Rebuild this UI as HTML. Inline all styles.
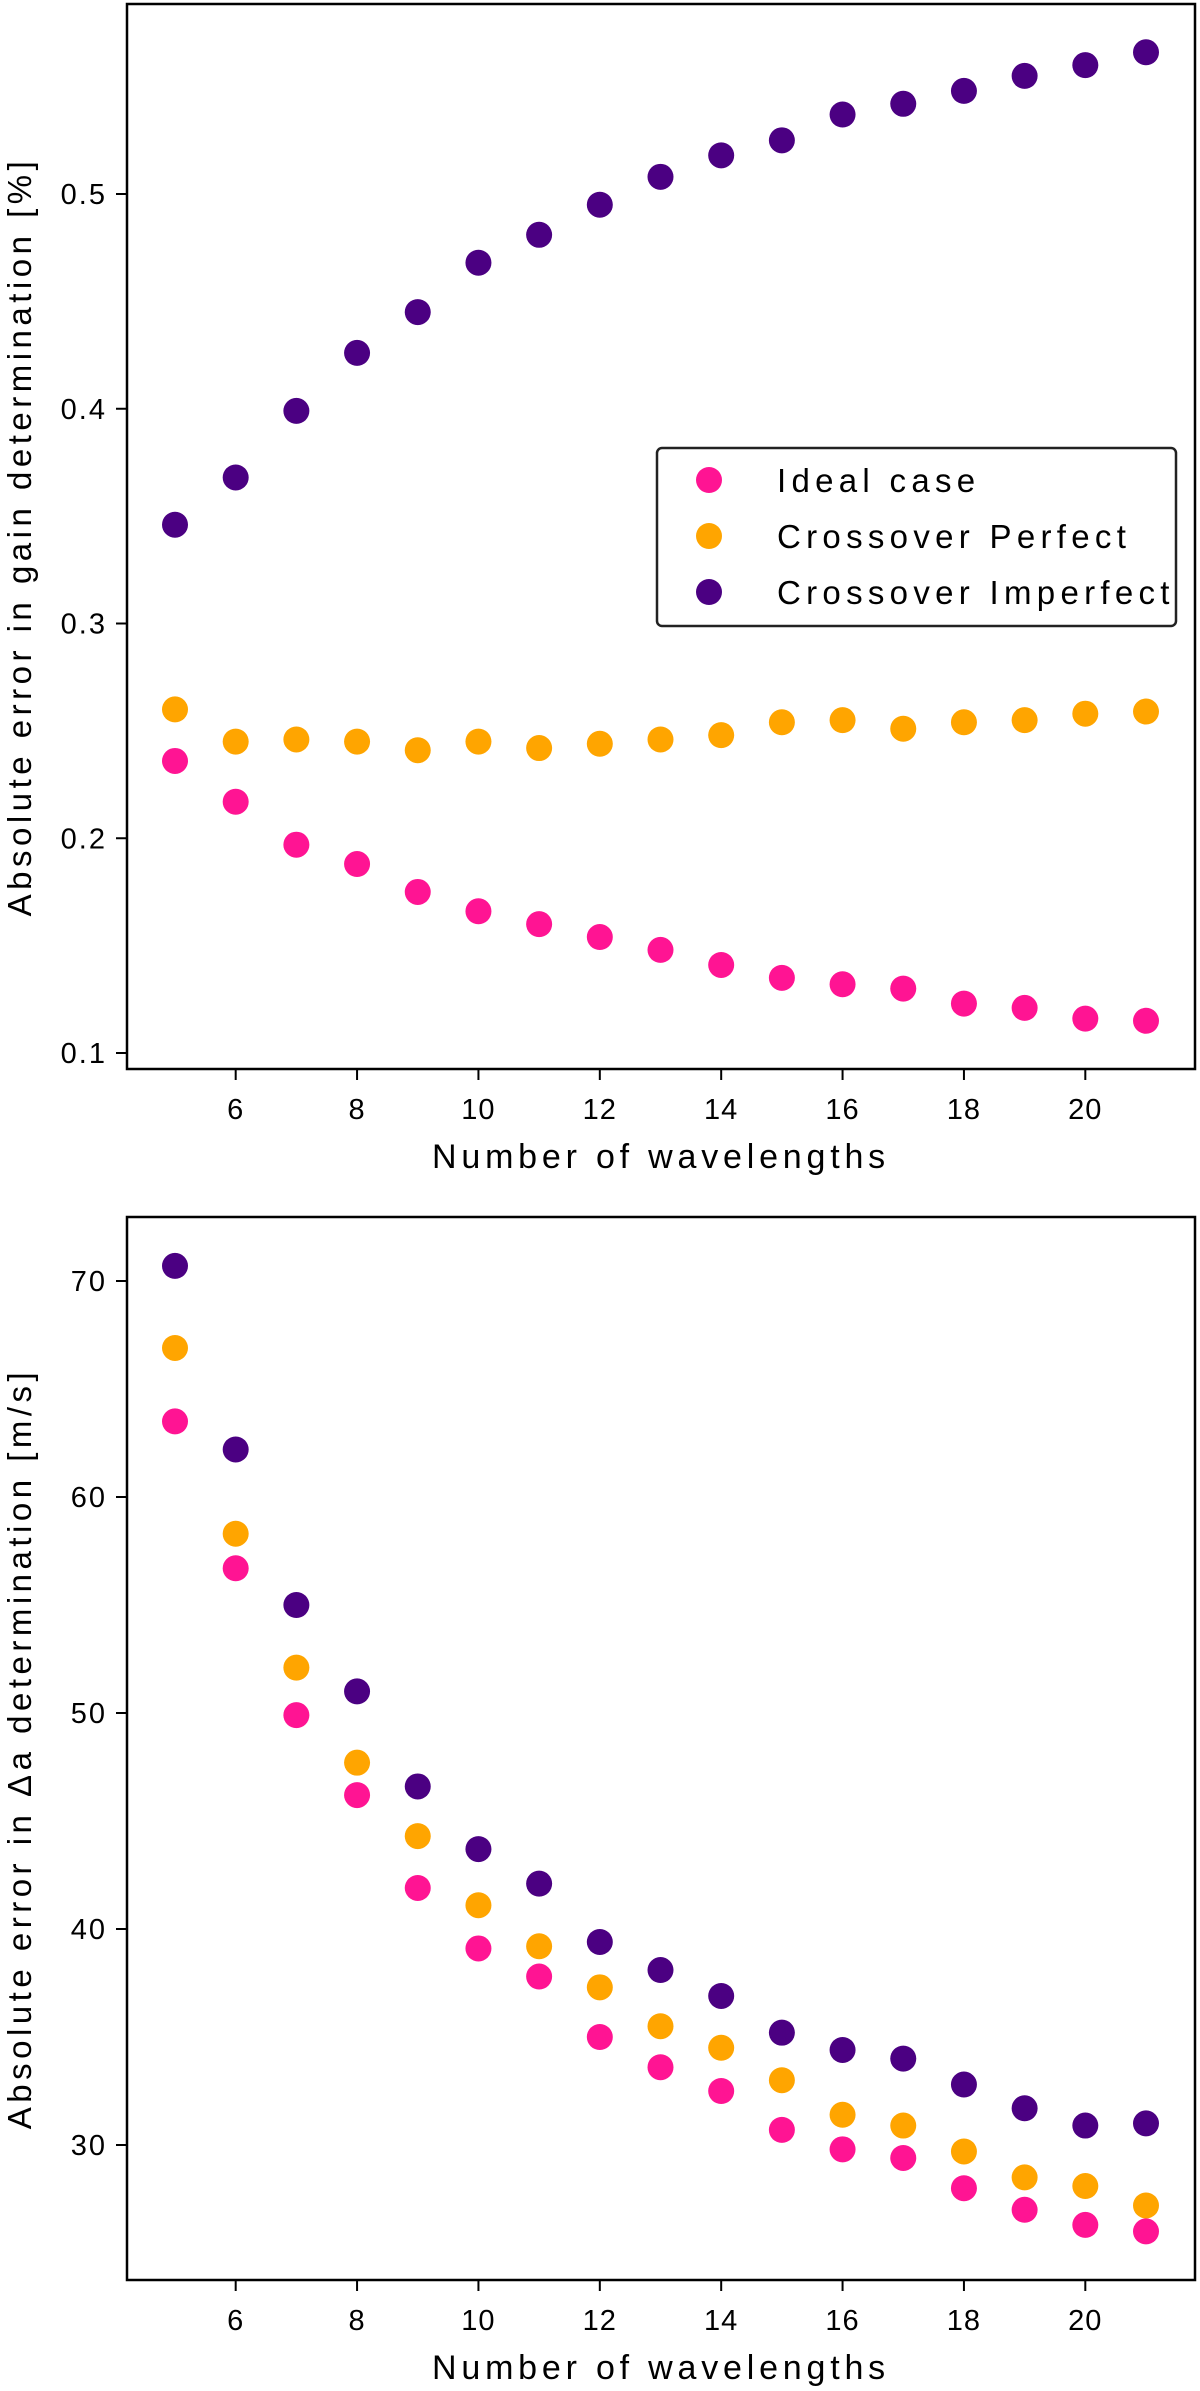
<!DOCTYPE html>
<html><head><meta charset="utf-8"><style>
html,body{margin:0;padding:0;background:#fff;}
svg{display:block;font-family:"Liberation Sans",sans-serif;}
</style></head><body>
<svg id="fig" width="1200" height="2391" viewBox="0 0 1200 2391" xmlns="http://www.w3.org/2000/svg"></svg>
<script>
const xs=[5,6,7,8,9,10,11,12,13,14,15,16,17,18,19,20,21];
const xTicks=[6,8,10,12,14,16,18,20];
const seriesNames=["Ideal case","Crossover Perfect","Crossover Imperfect"];
const colors=["#ff1493","#ffa500","#4b0082"];
const gainIdeal=[0.236,0.217,0.197,0.188,0.175,0.166,0.160,0.154,0.148,0.141,0.135,0.132,0.130,0.123,0.121,0.116,0.115];
const gainPerfect=[0.260,0.245,0.246,0.245,0.241,0.245,0.242,0.244,0.246,0.248,0.254,0.255,0.251,0.254,0.255,0.258,0.259];
const gainImperfect=[0.346,0.368,0.399,0.426,0.445,0.468,0.481,0.495,0.508,0.518,0.525,0.537,0.542,0.548,0.555,0.560,0.566];
const gainTicks=[0.1,0.2,0.3,0.4,0.5];
const daIdeal=[63.5,56.7,49.9,46.2,41.9,39.1,37.8,35.0,33.6,32.5,30.7,29.8,29.4,28.0,27.0,26.3,26.0];
const daPerfect=[66.9,58.3,52.1,47.7,44.3,41.1,39.2,37.3,35.5,34.5,33.0,31.4,30.9,29.7,28.5,28.1,27.2];
const daImperfect=[70.7,62.2,55.0,51.0,46.6,43.7,42.1,39.4,38.1,36.9,35.2,34.4,34.0,32.8,31.7,30.9,31.0];
const daTicks=[30,40,50,60,70];

const NS="http://www.w3.org/2000/svg";
const svg=document.getElementById('fig');
function mk(tag,attrs,parent,text){const e=document.createElementNS(NS,tag);for(const k in attrs)e.setAttribute(k,attrs[k]);if(text!==undefined)e.textContent=text;(parent||svg).appendChild(e);return e;}

function chart(cfg){
  const g=mk('g',{});
  
  
  const L=127,R=1195,T=cfg.top,B=cfg.bottom;
  const xScale=v=>175+(v-5)*(1146-175)/16;
  const yScale=v=>cfg.y0px+(v-cfg.y0)*(cfg.y1px-cfg.y0px)/(cfg.y1-cfg.y0);
  const sers=[cfg.s0,cfg.s1,cfg.s2];
  cfg.order.forEach(si=>{
    const sg=mk('g',{},g);
    
    
    sers[si].forEach((v,i)=>{
      const c=mk('circle',{cx:xScale(xs[i]),cy:yScale(v),r:13,fill:colors[si]},sg);
      
      
    });
  });
  const frame=mk('rect',{x:L,y:T,width:R-L,height:B-T,fill:'none',stroke:'#000','stroke-width':2.5},g);
  
  
  xTicks.forEach(t=>{
    const x=xScale(t);
    mk('line',{x1:x,x2:x,y1:B,y2:B+11,stroke:'#000','stroke-width':2},g);
    const tl=mk('text',{x:x,y:B+50,'text-anchor':'middle','font-size':29,'letter-spacing':1},g,String(t));
    
    
  });
  cfg.ticks.forEach(t=>{
    const y=yScale(t);
    mk('line',{x1:L-11,x2:L,y1:y,y2:y,stroke:'#000','stroke-width':2},g);
    const tl=mk('text',{x:L-20,y:y+10,'text-anchor':'end','font-size':29,'letter-spacing':2},g,String(t));
    
    
  });
  const xt=mk('text',{x:661,y:B+99,'text-anchor':'middle','font-size':34,'letter-spacing':4.8},g,'Number of wavelengths');
  
  
  const cy=(T+B)/2;
  const yt=mk('text',{x:0,y:0,'text-anchor':'middle','font-size':33,'letter-spacing':4.5,transform:`translate(31,${cy}) rotate(-90)`},g,cfg.ytitle);
  
  
  return g;
}
chart({name:'gain-chart',top:4,bottom:1069,y0:0.1,y1:0.5,y0px:1053,y1px:194,ticks:gainTicks,s0:gainIdeal,s1:gainPerfect,s2:gainImperfect,order:[0,1,2],ytitle:'Absolute error in gain determination [%]'});
chart({name:'delta-a-chart',top:1217,bottom:2280,y0:30,y1:70,y0px:2145,y1px:1281,ticks:daTicks,s0:daIdeal,s1:daPerfect,s2:daImperfect,order:[2,1,0],ytitle:'Absolute error in \u0394a determination [m/s]'});

const lg=mk('g',{});


mk('rect',{x:657,y:448,width:519,height:178,rx:5,fill:'#fff',stroke:'#222','stroke-width':2.5},lg);
const ly=[480,536,592];
seriesNames.forEach((n,i)=>{
  const e=mk('g',{},lg);
  
  
  mk('circle',{cx:709,cy:ly[i],r:13,fill:colors[i]},e);
  mk('text',{x:777,y:ly[i]+12,'font-size':33,'letter-spacing':5.3},e,n);
});
</script>
</body></html>
